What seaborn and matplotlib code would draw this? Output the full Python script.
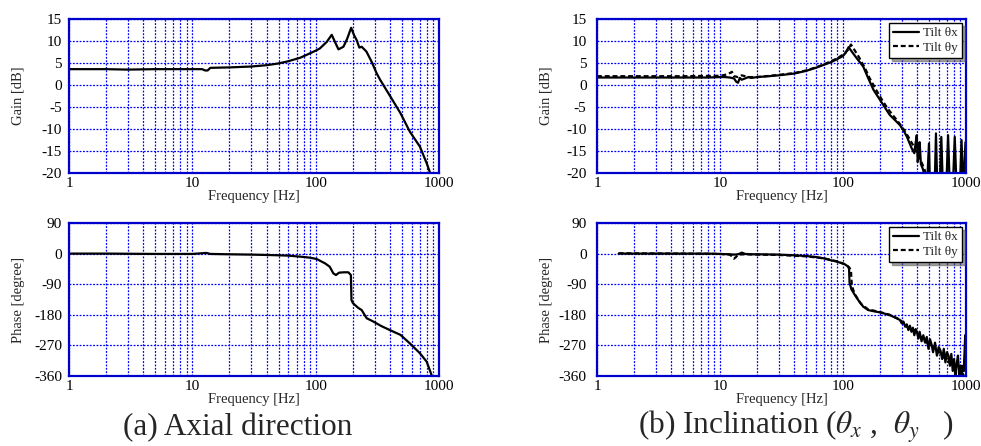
import pandas as pd
import matplotlib
matplotlib.use("Agg")
import matplotlib.pyplot as plt
import seaborn as sns
from matplotlib.ticker import FixedLocator, NullFormatter, FuncFormatter

sns.set_style("white")
plt.rcParams["font.family"] = ["Liberation Serif", "DejaVu Serif"]
plt.rcParams["mathtext.fontset"] = "stix"
plt.rcParams["axes.unicode_minus"] = False

# ---- Axial direction: gain [dB] and phase [deg] vs frequency [Hz] ----
axial_gain_f = [1, 2, 3, 5, 8, 12, 12.7, 13.3, 14, 20, 30, 40, 50, 60, 75, 90, 100, 108,
                123, 135, 145, 153, 168, 180, 194, 205, 215, 226, 236, 258, 284, 313, 333,
                405, 487, 580, 700, 795, 860]
axial_gain = [3.6, 3.6, 3.5, 3.6, 3.6, 3.6, 3.3, 3.3, 3.9, 4.0, 4.2, 4.5, 4.9, 5.4, 6.2, 7.2,
              7.8, 8.3, 9.8, 11.4, 9.5, 8.1, 8.7, 10.5, 13.0, 11.3, 10.2, 8.5, 8.7, 7.6, 5.3,
              2.6, 1.2, -2.7, -6.4, -10.6, -14.0, -17.8, -20.5]

axial_phase_f = [1, 2, 5, 8, 10, 13, 14, 20, 30, 40, 50, 60, 75, 90, 102, 119, 130, 139, 146,
                 155, 170, 184, 193, 194, 195, 200, 208, 222, 236, 259, 294, 340, 400, 487,
                 580, 700, 795, 876]
axial_phase = [0, 0, -1, -1, -1, 2, -1, -2, -3, -4, -5, -6, -9, -12, -16, -28.6, -38.5, -58,
               -63, -56, -55, -55, -63, -97, -136, -145, -151, -160, -166, -190, -200, -213,
               -225, -239, -264, -293, -318, -360]

# ---- Inclination: tilt about x (solid) and y (dashed) ----
tilt_x_gain_f = [1, 2, 5, 8, 10, 11, 12, 13, 13.5, 14, 14.5, 15, 16, 17, 18, 20, 25, 30, 40,
                 50, 60, 70, 80, 90, 100, 105, 111, 120, 130, 146, 160, 177, 200, 220, 240,
                 265, 290, 310, 330, 345, 362, 380, 390, 398, 405, 412, 420, 430, 445, 465,
                 480, 500, 510, 530, 555, 570, 585, 610, 630, 650, 690, 715, 740, 780, 810,
                 840, 890, 920, 950, 990]
tilt_x_gain = [1.7, 1.7, 1.7, 1.7, 1.8, 1.8, 1.7, 1.5, 0.8, 0.5, 1.6, 1.2, 1.5, 1.8, 1.6, 1.8,
               2.0, 2.2, 2.6, 3.2, 3.9, 4.6, 5.2, 5.9, 6.6, 7.3, 8.6, 7.3, 6.0, 4.2, 1.6, -1.1,
               -3.4, -5.2, -6.8, -8.0, -9.1, -10.3, -11.7, -13.0, -14.4, -15.5, -13.0, -11.4,
               -17.5, -16, -13.0, -18, -19, -21, -24, -13.3, -24, -24, -24, -11, -24, -24,
               -11.8, -24, -24, -11.4, -24, -24, -11.8, -24, -24, -12.5, -24, -13]

tilt_y_gain_f = [1, 5, 10, 11, 12, 12.5, 13, 14, 15, 17, 20, 30, 40, 50, 60, 70, 80, 90, 100,
                 110, 116, 125, 135, 150, 165, 185, 210, 230, 250, 280, 310, 340, 370, 400,
                 430, 460, 480, 500]
tilt_y_gain = [2.0, 2.0, 2.1, 2.3, 2.7, 3.0, 2.0, 1.8, 2.2, 1.8, 1.8, 2.3, 2.7, 3.3, 4.0, 4.7,
               5.4, 6.1, 6.9, 8.0, 9.2, 7.8, 6.3, 4.0, 1.5, -1.0, -3.6, -5.3, -6.6, -8.3,
               -10.0, -11.8, -13.6, -15.4, -17.2, -19.2, -21, -23]

tilt_x_phase_f = [1.5, 2, 5, 8, 10, 12, 13, 14, 14.5, 15, 15.5, 16, 18, 20, 30, 40, 50, 60, 70,
                  78, 90, 103, 110, 112, 113, 117, 125, 135, 146, 160, 180, 200, 220, 240,
                  265, 290, 300, 310, 320, 330, 340, 350, 360, 370, 380, 390, 400, 410, 420,
                  435, 450, 465, 480, 495, 510, 525, 540, 560, 580, 600, 620, 640, 660, 680,
                  700, 720, 740, 760, 780, 800, 820, 840, 860, 880, 900, 920, 940, 960, 985,
                  1000]
tilt_x_phase = [0, 0, 0, 0, -1, -2, -3, -2, 0, 3, 1, -1, -2, -2, -3, -5, -7, -10, -14, -18.8,
                -24, -31, -38, -45, -85, -105, -122, -140, -156, -166, -170, -173, -177, -181,
                -188, -195, -205, -200, -215, -208, -225, -212, -230, -218, -240, -222, -232,
                -250, -230, -258, -240, -262, -245, -280, -252, -268, -290, -262, -300, -275,
                -285, -310, -280, -320, -290, -300, -330, -295, -345, -310, -360, -325, -300,
                -355, -330, -360, -330, -345, -240, -320]

tilt_y_phase_f = [1.5, 5, 10, 12, 12.5, 13, 13.5, 14, 16, 20, 30, 50, 70, 90, 103, 112, 116,
                  118, 125, 140, 160, 200, 240, 290, 330, 380, 430, 480, 530, 580, 640, 700,
                  760, 820, 880, 920, 950, 980, 1000]
tilt_y_phase = [1, 0, -1, -3, -8, -15, -10, -3, -2, -3, -4, -8, -14, -23, -31, -40, -48, -95,
                -120, -148, -164, -172, -180, -194, -215, -228, -245, -262, -272, -285, -300,
                -315, -325, -340, -350, -330, -360, -300, -345]

freq_ticks = [1, 10, 100, 1000]
freq_minor = [m * d for d in (1, 10, 100) for m in range(2, 10)]
gain_ticks = [15, 10, 5, 0, -5, -10, -15, -20]
phase_ticks = [90, 0, -90, -180, -270, -360]

W, H = 981, 446
fig = plt.figure(figsize=(W / 100, H / 100), dpi=100)


def add_axes(x0, x1, y0, y1):
    return fig.add_axes([x0 / W, 1 - y1 / H, (x1 - x0) / W, (y1 - y0) / H])


def draw(ax, f, v, label=None, ls="-"):
    df = pd.DataFrame({"f": f, "v": v})
    sns.lineplot(data=df, x="f", y="v", ax=ax, color="black", lw=1.6, ls=ls,
                 estimator=None, sort=False, label=label)


def style(ax, ylim, yticks, ylabel, ypad):
    ax.set_xscale("log")
    ax.set_xlim(1, 1000)
    ax.set_ylim(*ylim)
    ax.yaxis.set_major_locator(FixedLocator(yticks))
    ax.xaxis.set_major_locator(FixedLocator(freq_ticks))
    ax.xaxis.set_major_formatter(FuncFormatter(lambda v, p: f"{v:g}"))
    ax.xaxis.set_minor_locator(FixedLocator(freq_minor))
    ax.xaxis.set_minor_formatter(NullFormatter())
    grid_kw = dict(color="#0000ff", ls=(0, (1.5, 1.2)), lw=0.9)
    ax.grid(True, which="both", axis="x", **grid_kw)
    ax.grid(True, which="major", axis="y", **grid_kw)
    ax.tick_params(which="both", length=0, labelsize=11, colors="black")
    ax.tick_params(axis="x", pad=3)
    ax.tick_params(axis="y", pad=ypad)
    for s in ax.spines.values():
        s.set_visible(True)
        s.set_color("#0000cc")
        s.set_linewidth(1.6)
    ax.set_xlabel("Frequency [Hz]", fontsize=10.5)
    ax.set_ylabel(ylabel, fontsize=10.5)
    width = ax.get_position().width * W
    height = ax.get_position().height * H
    ax.xaxis.set_label_coords(0.5, -17 / height)
    ax.yaxis.set_label_coords(-44 / width, 0.5)


ax_ag = add_axes(69, 439, 19, 173)
ax_ap = add_axes(69, 439, 223, 376)
ax_ig = add_axes(597, 966, 19, 173)
ax_ip = add_axes(597, 966, 223, 376)

draw(ax_ag, axial_gain_f, axial_gain)
draw(ax_ap, axial_phase_f, axial_phase)
draw(ax_ig, tilt_x_gain_f, tilt_x_gain, label="Tilt θx")
draw(ax_ig, tilt_y_gain_f, tilt_y_gain, label="Tilt θy", ls=(0, (2.2, 1.3)))
draw(ax_ip, tilt_x_phase_f, tilt_x_phase, label="Tilt θx")
draw(ax_ip, tilt_y_phase_f, tilt_y_phase, label="Tilt θy", ls=(0, (2.2, 1.3)))

style(ax_ag, (-20, 15), gain_ticks, "Gain [dB]", 5)
style(ax_ap, (-360, 90), phase_ticks, "Phase [degree]", 5)
style(ax_ig, (-20, 15), gain_ticks, "Gain [dB]", 7.5)
style(ax_ip, (-360, 90), phase_ticks, "Phase [degree]", 7.5)

for ax in (ax_ig, ax_ip):
    leg = ax.legend(loc="upper right", fontsize=9.5, frameon=True, fancybox=False,
                    shadow=True, edgecolor="black", framealpha=1, borderaxespad=0.3,
                    handlelength=2.0, handletextpad=0.3, labelspacing=0.2, borderpad=0.3)
    leg.get_frame().set_linewidth(1.0)

fig.text(123 / W, 1 - 435 / H, "(a) Axial direction", fontsize=22.5, ha="left",
         va="baseline")
fig.text(638 / W, 1 - 435 / H,
         r"(b) Inclination ($\mathit{\theta}_x$ ,  $\mathit{\theta}_y$   )",
         fontsize=22.5, ha="left", va="baseline")

fig.savefig("out.png", dpi=100)
